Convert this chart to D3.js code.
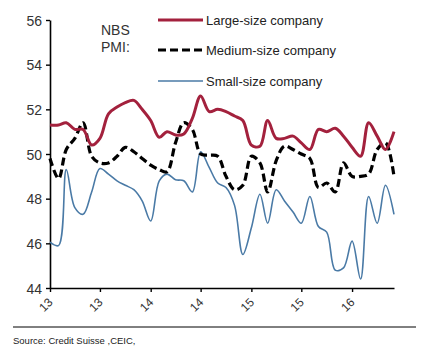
<!DOCTYPE html>
<html><head><meta charset="utf-8">
<script src="https://cdn.jsdelivr.net/npm/d3@7"></script>
<style>body{margin:0;background:#fff}svg{display:block;font-family:"Liberation Sans",Arial,sans-serif}</style>
</head><body>
<script>
const months = d3.range(42).map(i => new Date(2013, i, 1));
const seriesNames = ["Large-size company", "Medium-size company", "Small-size company"];
const large = [51.3,51.3,51.4,51.1,51.1,50.4,50.7,51.8,52.1,52.3,52.4,52.0,51.5,50.75,51.0,50.85,50.9,51.6,52.6,51.9,52.0,51.9,51.7,51.5,50.4,50.35,51.5,50.7,50.7,50.8,50.5,50.2,51.1,51.0,51.15,50.8,50.3,49.9,51.4,50.8,50.2,51.0];
const medium = [49.8,48.9,50.2,50.7,51.4,49.9,49.6,49.6,49.9,50.3,50.1,49.8,49.5,49.3,49.2,50.5,51.4,51.1,50.0,49.95,49.9,49.0,48.4,48.6,49.9,49.6,48.3,49.7,50.35,50.2,50.0,49.8,48.5,48.7,48.3,49.6,49.0,49.0,49.1,50.2,50.5,49.0];
const small = [46.05,45.9,49.3,47.6,47.3,48.3,49.35,49.1,48.8,48.6,48.4,47.9,47.0,48.8,49.1,48.85,48.8,48.3,50.1,49.4,48.7,48.5,47.7,45.5,46.7,48.2,46.9,48.4,47.9,47.4,46.9,48.1,46.75,46.5,44.8,44.9,46.1,44.4,48.1,46.9,48.6,47.3];
const yTicks = [44,46,48,50,52,54,56];
const xTickDates = [new Date(2013,0,1),new Date(2013,6,1),new Date(2014,0,1),new Date(2014,6,1),new Date(2015,0,1),new Date(2015,6,1),new Date(2016,0,1)];
const colors = ["#A3213D", "#000000", "#4A7AA6"];

const W = 433, H = 352;
const svg = d3.select("body").append("svg").attr("width", W).attr("height", H);
const x = d3.scaleTime().domain([months[0], months[months.length-1]]).range([50, 394]);
const y = d3.scaleLinear().domain([44, 56]).range([288, 20]);

// axes
const yAxis = svg.append("g").attr("transform","translate(50,0)")
  .call(d3.axisLeft(y).tickValues(yTicks).tickSize(4).tickSizeOuter(0).tickFormat(d3.format("d")));
yAxis.select(".domain").attr("stroke","#000").attr("stroke-width",1.6);
yAxis.selectAll(".tick line").attr("stroke","#000").attr("stroke-width",1.4);
yAxis.selectAll("text").attr("font-size",14).attr("fill","#333").attr("x",-8).attr("dy","0.36em");

const xAxis = svg.append("g").attr("transform","translate(0,288)")
  .call(d3.axisBottom(x).tickValues(xTickDates).tickSize(4).tickSizeOuter(0).tickFormat(d3.timeFormat("%y")));
xAxis.select(".domain").attr("stroke","#000").attr("stroke-width",1.6);
xAxis.selectAll(".tick line").attr("stroke","#000").attr("stroke-width",1.4);
xAxis.selectAll("text").attr("font-size",12).attr("fill","#333")
  .attr("text-anchor","end").attr("dy",0).attr("y",0)
  .attr("transform","translate(3,15) rotate(-45)");

// lines
const data = [large, medium, small];
const line = d3.line().x((d,i)=>x(months[i])).y(d=>y(d)).curve(d3.curveCatmullRom.alpha(0.5));
const widths = [3, 3.2, 1.6];
const dashes = [null, "8,4", null];
[2,1,0].forEach(k => {
  svg.append("path").datum(data[k]).attr("d", line).attr("fill","none")
    .attr("stroke", colors[k]).attr("stroke-width", widths[k])
    .attr("stroke-dasharray", dashes[k]);
});

// legend
svg.append("text").attr("x",101).attr("y",35).attr("font-size",14).attr("fill","#333").text("NBS");
svg.append("text").attr("x",101).attr("y",52).attr("font-size",14).attr("fill","#333").text("PMI:");
const legY = [20, 50, 81];
seriesNames.forEach((n,k) => {
  svg.append("line").attr("x1",158).attr("x2",203).attr("y1",legY[k]).attr("y2",legY[k])
    .attr("stroke",colors[k]).attr("stroke-width",widths[k]).attr("stroke-dasharray",dashes[k]);
  svg.append("text").attr("x",206).attr("y",legY[k]).attr("dy","0.35em").attr("font-size",13).attr("fill","#222").text(n);
});

// source
svg.append("line").attr("x1",13).attr("x2",416).attr("y1",327).attr("y2",327).attr("stroke","#000").attr("stroke-width",1);
svg.append("text").attr("x",13).attr("y",344).attr("font-size",9.5).attr("fill","#222").text("Source: Credit Suisse ,CEIC,");
</script>
</body></html>
